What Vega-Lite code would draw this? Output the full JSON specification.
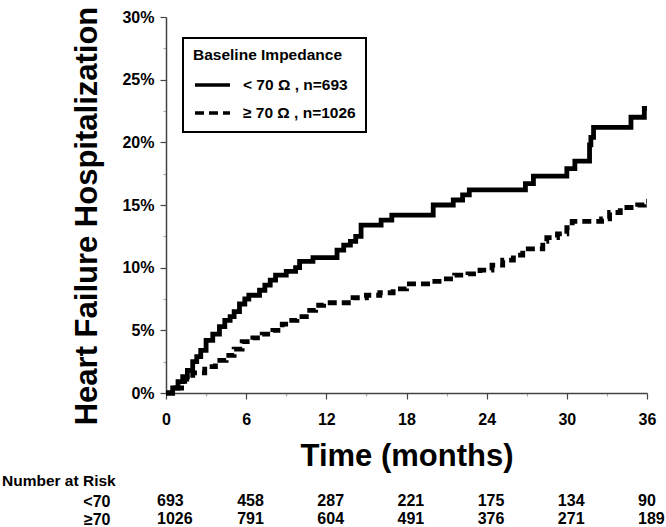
{
  "$schema": "https://vega.github.io/schema/vega-lite/v6.json",
  "padding": {"left": 2, "top": 6, "right": 5, "bottom": 0},
  "background": "white",
  "config": {"view": {"stroke": null}, "font": "Liberation Sans"},
  "spacing": 2,
  "datasets": {
    "km": [
      {"group": "< 70 Ω , n=693", "t": 0, "pct": 0},
      {"group": "< 70 Ω , n=693", "t": 0.5, "pct": 0.4},
      {"group": "< 70 Ω , n=693", "t": 0.9, "pct": 0.9},
      {"group": "< 70 Ω , n=693", "t": 1.25, "pct": 1.3},
      {"group": "< 70 Ω , n=693", "t": 1.6, "pct": 1.8},
      {"group": "< 70 Ω , n=693", "t": 2.0, "pct": 2.5},
      {"group": "< 70 Ω , n=693", "t": 2.3, "pct": 2.9},
      {"group": "< 70 Ω , n=693", "t": 2.6, "pct": 3.4},
      {"group": "< 70 Ω , n=693", "t": 3.0, "pct": 4.2},
      {"group": "< 70 Ω , n=693", "t": 3.5, "pct": 4.7},
      {"group": "< 70 Ω , n=693", "t": 4.0, "pct": 5.3},
      {"group": "< 70 Ω , n=693", "t": 4.4, "pct": 5.8},
      {"group": "< 70 Ω , n=693", "t": 4.8, "pct": 6.1},
      {"group": "< 70 Ω , n=693", "t": 5.1, "pct": 6.5},
      {"group": "< 70 Ω , n=693", "t": 5.5, "pct": 7.1},
      {"group": "< 70 Ω , n=693", "t": 5.9, "pct": 7.5},
      {"group": "< 70 Ω , n=693", "t": 6.2, "pct": 7.8},
      {"group": "< 70 Ω , n=693", "t": 7.0, "pct": 8.2},
      {"group": "< 70 Ω , n=693", "t": 7.4, "pct": 8.6},
      {"group": "< 70 Ω , n=693", "t": 7.8, "pct": 9.0},
      {"group": "< 70 Ω , n=693", "t": 8.2, "pct": 9.4},
      {"group": "< 70 Ω , n=693", "t": 9.0, "pct": 9.7},
      {"group": "< 70 Ω , n=693", "t": 9.7, "pct": 10.0},
      {"group": "< 70 Ω , n=693", "t": 10.0, "pct": 10.5},
      {"group": "< 70 Ω , n=693", "t": 11.0, "pct": 10.8},
      {"group": "< 70 Ω , n=693", "t": 12.8, "pct": 11.4},
      {"group": "< 70 Ω , n=693", "t": 13.3, "pct": 11.8},
      {"group": "< 70 Ω , n=693", "t": 13.8, "pct": 12.1},
      {"group": "< 70 Ω , n=693", "t": 14.2, "pct": 12.5},
      {"group": "< 70 Ω , n=693", "t": 14.6, "pct": 13.4},
      {"group": "< 70 Ω , n=693", "t": 16.1, "pct": 13.8},
      {"group": "< 70 Ω , n=693", "t": 16.9, "pct": 14.2},
      {"group": "< 70 Ω , n=693", "t": 20.0, "pct": 15.0},
      {"group": "< 70 Ω , n=693", "t": 21.5, "pct": 15.4},
      {"group": "< 70 Ω , n=693", "t": 22.2, "pct": 15.8},
      {"group": "< 70 Ω , n=693", "t": 22.7, "pct": 16.2},
      {"group": "< 70 Ω , n=693", "t": 26.9, "pct": 16.7},
      {"group": "< 70 Ω , n=693", "t": 27.5, "pct": 17.3},
      {"group": "< 70 Ω , n=693", "t": 30.0, "pct": 17.9},
      {"group": "< 70 Ω , n=693", "t": 30.6, "pct": 18.5},
      {"group": "< 70 Ω , n=693", "t": 31.7, "pct": 19.8},
      {"group": "< 70 Ω , n=693", "t": 31.8, "pct": 20.4},
      {"group": "< 70 Ω , n=693", "t": 32.0, "pct": 21.2},
      {"group": "< 70 Ω , n=693", "t": 34.8, "pct": 22.0},
      {"group": "< 70 Ω , n=693", "t": 35.8, "pct": 22.7},
      {"group": "< 70 Ω , n=693", "t": 36.0, "pct": 22.7},
      {"group": "≥ 70 Ω , n=1026", "t": 0, "pct": 0},
      {"group": "≥ 70 Ω , n=1026", "t": 0.7, "pct": 0.4},
      {"group": "≥ 70 Ω , n=1026", "t": 1.4, "pct": 1.1},
      {"group": "≥ 70 Ω , n=1026", "t": 2.0, "pct": 1.6},
      {"group": "≥ 70 Ω , n=1026", "t": 2.9, "pct": 2.1},
      {"group": "≥ 70 Ω , n=1026", "t": 3.7, "pct": 2.6},
      {"group": "≥ 70 Ω , n=1026", "t": 4.5, "pct": 3.0},
      {"group": "≥ 70 Ω , n=1026", "t": 5.1, "pct": 3.5},
      {"group": "≥ 70 Ω , n=1026", "t": 5.7, "pct": 4.1},
      {"group": "≥ 70 Ω , n=1026", "t": 6.5, "pct": 4.4},
      {"group": "≥ 70 Ω , n=1026", "t": 7.2, "pct": 4.7},
      {"group": "≥ 70 Ω , n=1026", "t": 8.0, "pct": 5.0},
      {"group": "≥ 70 Ω , n=1026", "t": 8.7, "pct": 5.5},
      {"group": "≥ 70 Ω , n=1026", "t": 9.2, "pct": 5.8},
      {"group": "≥ 70 Ω , n=1026", "t": 9.8, "pct": 6.1},
      {"group": "≥ 70 Ω , n=1026", "t": 10.5, "pct": 6.6},
      {"group": "≥ 70 Ω , n=1026", "t": 11.2, "pct": 7.0},
      {"group": "≥ 70 Ω , n=1026", "t": 11.8, "pct": 7.2},
      {"group": "≥ 70 Ω , n=1026", "t": 14.0, "pct": 7.6},
      {"group": "≥ 70 Ω , n=1026", "t": 15.0, "pct": 7.8},
      {"group": "≥ 70 Ω , n=1026", "t": 16.0, "pct": 8.0},
      {"group": "≥ 70 Ω , n=1026", "t": 17.0, "pct": 8.3},
      {"group": "≥ 70 Ω , n=1026", "t": 18.0, "pct": 8.7},
      {"group": "≥ 70 Ω , n=1026", "t": 19.8, "pct": 8.9},
      {"group": "≥ 70 Ω , n=1026", "t": 20.7, "pct": 9.1},
      {"group": "≥ 70 Ω , n=1026", "t": 21.6, "pct": 9.4},
      {"group": "≥ 70 Ω , n=1026", "t": 22.6, "pct": 9.5},
      {"group": "≥ 70 Ω , n=1026", "t": 23.5, "pct": 9.8},
      {"group": "≥ 70 Ω , n=1026", "t": 24.4, "pct": 10.2},
      {"group": "≥ 70 Ω , n=1026", "t": 25.2, "pct": 10.6},
      {"group": "≥ 70 Ω , n=1026", "t": 26.0, "pct": 11.0},
      {"group": "≥ 70 Ω , n=1026", "t": 26.7, "pct": 11.5},
      {"group": "≥ 70 Ω , n=1026", "t": 28.2, "pct": 12.1},
      {"group": "≥ 70 Ω , n=1026", "t": 28.5, "pct": 12.4},
      {"group": "≥ 70 Ω , n=1026", "t": 29.3, "pct": 12.7},
      {"group": "≥ 70 Ω , n=1026", "t": 30.0, "pct": 13.2},
      {"group": "≥ 70 Ω , n=1026", "t": 30.4, "pct": 13.7},
      {"group": "≥ 70 Ω , n=1026", "t": 32.6, "pct": 13.9},
      {"group": "≥ 70 Ω , n=1026", "t": 33.2, "pct": 14.4},
      {"group": "≥ 70 Ω , n=1026", "t": 34.0, "pct": 14.8},
      {"group": "≥ 70 Ω , n=1026", "t": 35.3, "pct": 15.0},
      {"group": "≥ 70 Ω , n=1026", "t": 35.8, "pct": 15.3},
      {"group": "≥ 70 Ω , n=1026", "t": 36.0, "pct": 15.3}
    ],
    "risk": [
      {"row": "<70", "t": 0, "n": 693},
      {"row": "<70", "t": 6, "n": 458},
      {"row": "<70", "t": 12, "n": 287},
      {"row": "<70", "t": 18, "n": 221},
      {"row": "<70", "t": 24, "n": 175},
      {"row": "<70", "t": 30, "n": 134},
      {"row": "<70", "t": 36, "n": 90},
      {"row": "≥70", "t": 0, "n": 1026},
      {"row": "≥70", "t": 6, "n": 791},
      {"row": "≥70", "t": 12, "n": 604},
      {"row": "≥70", "t": 18, "n": 491},
      {"row": "≥70", "t": 24, "n": 376},
      {"row": "≥70", "t": 30, "n": 271},
      {"row": "≥70", "t": 36, "n": 189}
    ]
  },
  "vconcat": [
    {
      "width": 481,
      "height": 376,
      "data": {"name": "km"},
      "mark": {"type": "line", "interpolate": "step-after", "strokeWidth": 4.8, "color": "black", "strokeCap": "butt", "strokeJoin": "miter"},
      "encoding": {
        "x": {
          "field": "t", "type": "quantitative",
          "scale": {"domain": [0, 36], "nice": false},
          "axis": {
            "values": [0, 3, 6, 9, 12, 15, 18, 21, 24, 27, 30, 33, 36],
            "labelExpr": "datum.value % 6 === 0 ? datum.label : ''",
            "title": "Time (months)", "titleFontSize": 31, "titleFontWeight": "bold", "titleColor": "black", "titlePadding": 14,
            "labelFontSize": 16, "labelFontWeight": "bold", "labelColor": "black", "labelPadding": 12, "labelFlush": false,
            "tickSize": {"condition": {"test": "datum.value % 6 !== 0", "value": 3}, "value": 6},
            "tickColor": {"condition": {"test": "datum.value % 6 !== 0", "value": "#aaaaaa"}, "value": "#444444"},
            "tickWidth": 1.2, "domainColor": "#444444", "domainWidth": 1.5, "grid": false
          }
        },
        "y": {
          "field": "pct", "type": "quantitative",
          "scale": {"domain": [0, 30], "nice": false},
          "axis": {
            "values": [0, 2.5, 5, 7.5, 10, 12.5, 15, 17.5, 20, 22.5, 25, 27.5, 30],
            "labelExpr": "datum.value % 5 === 0 ? datum.value + '%' : ''",
            "title": "Heart Failure Hospitalization", "titleFontSize": 31, "titleFontWeight": "bold", "titleColor": "black", "titlePadding": 18, "titleY": 198.5,
            "labelFontSize": 16, "labelFontWeight": "bold", "labelColor": "black", "labelPadding": 6, "labelFlush": false,
            "tickSize": {"condition": {"test": "datum.value % 5 !== 0", "value": 3}, "value": 6},
            "tickColor": {"condition": {"test": "datum.value % 5 !== 0", "value": "#aaaaaa"}, "value": "#444444"},
            "tickWidth": 1.2, "domainColor": "#444444", "domainWidth": 1.5, "grid": false
          }
        },
        "strokeDash": {
          "field": "group", "type": "nominal",
          "scale": {"domain": ["< 70 Ω , n=693", "≥ 70 Ω , n=1026"], "range": [[1, 0], [9, 5]]},
          "legend": {
            "orient": "none", "legendX": 17, "legendY": 21,
            "title": "Baseline Impedance", "titleFontSize": 15.5, "titleFontWeight": "bold", "titleColor": "black", "titlePadding": 2,
            "labelFontSize": 15.5, "labelFontWeight": "bold", "labelColor": "black", "labelOffset": 11, "labelLimit": 300,
            "symbolType": "stroke", "symbolSize": 1225, "symbolStrokeWidth": 3.5, "symbolStrokeColor": "black",
            "strokeColor": "black", "fillColor": "white", "padding": 10, "rowPadding": -9,
            "encode": {"legend": {"update": {"strokeWidth": {"value": 2}}}}
          }
        }
      }
    },
    {
      "width": 481,
      "height": 36,
      "data": {"name": "risk"},
      "title": {"text": "Number at Risk", "anchor": "start", "frame": "group", "dx": -164, "fontSize": 15.5, "fontWeight": "bold", "color": "black", "offset": 3},
      "mark": {"type": "text", "align": "left", "dx": -9, "fontSize": 16, "fontWeight": "bold", "color": "black"},
      "encoding": {
        "x": {"field": "t", "type": "quantitative", "scale": {"domain": [0, 36], "nice": false}, "axis": null},
        "y": {"field": "row", "type": "nominal", "sort": ["<70", "≥70"], "axis": {"title": null, "domain": false, "ticks": false, "labelFontSize": 16, "labelFontWeight": "bold", "labelColor": "black", "labelPadding": 56}},
        "text": {"field": "n", "type": "quantitative", "format": "d"}
      }
    }
  ]
}
